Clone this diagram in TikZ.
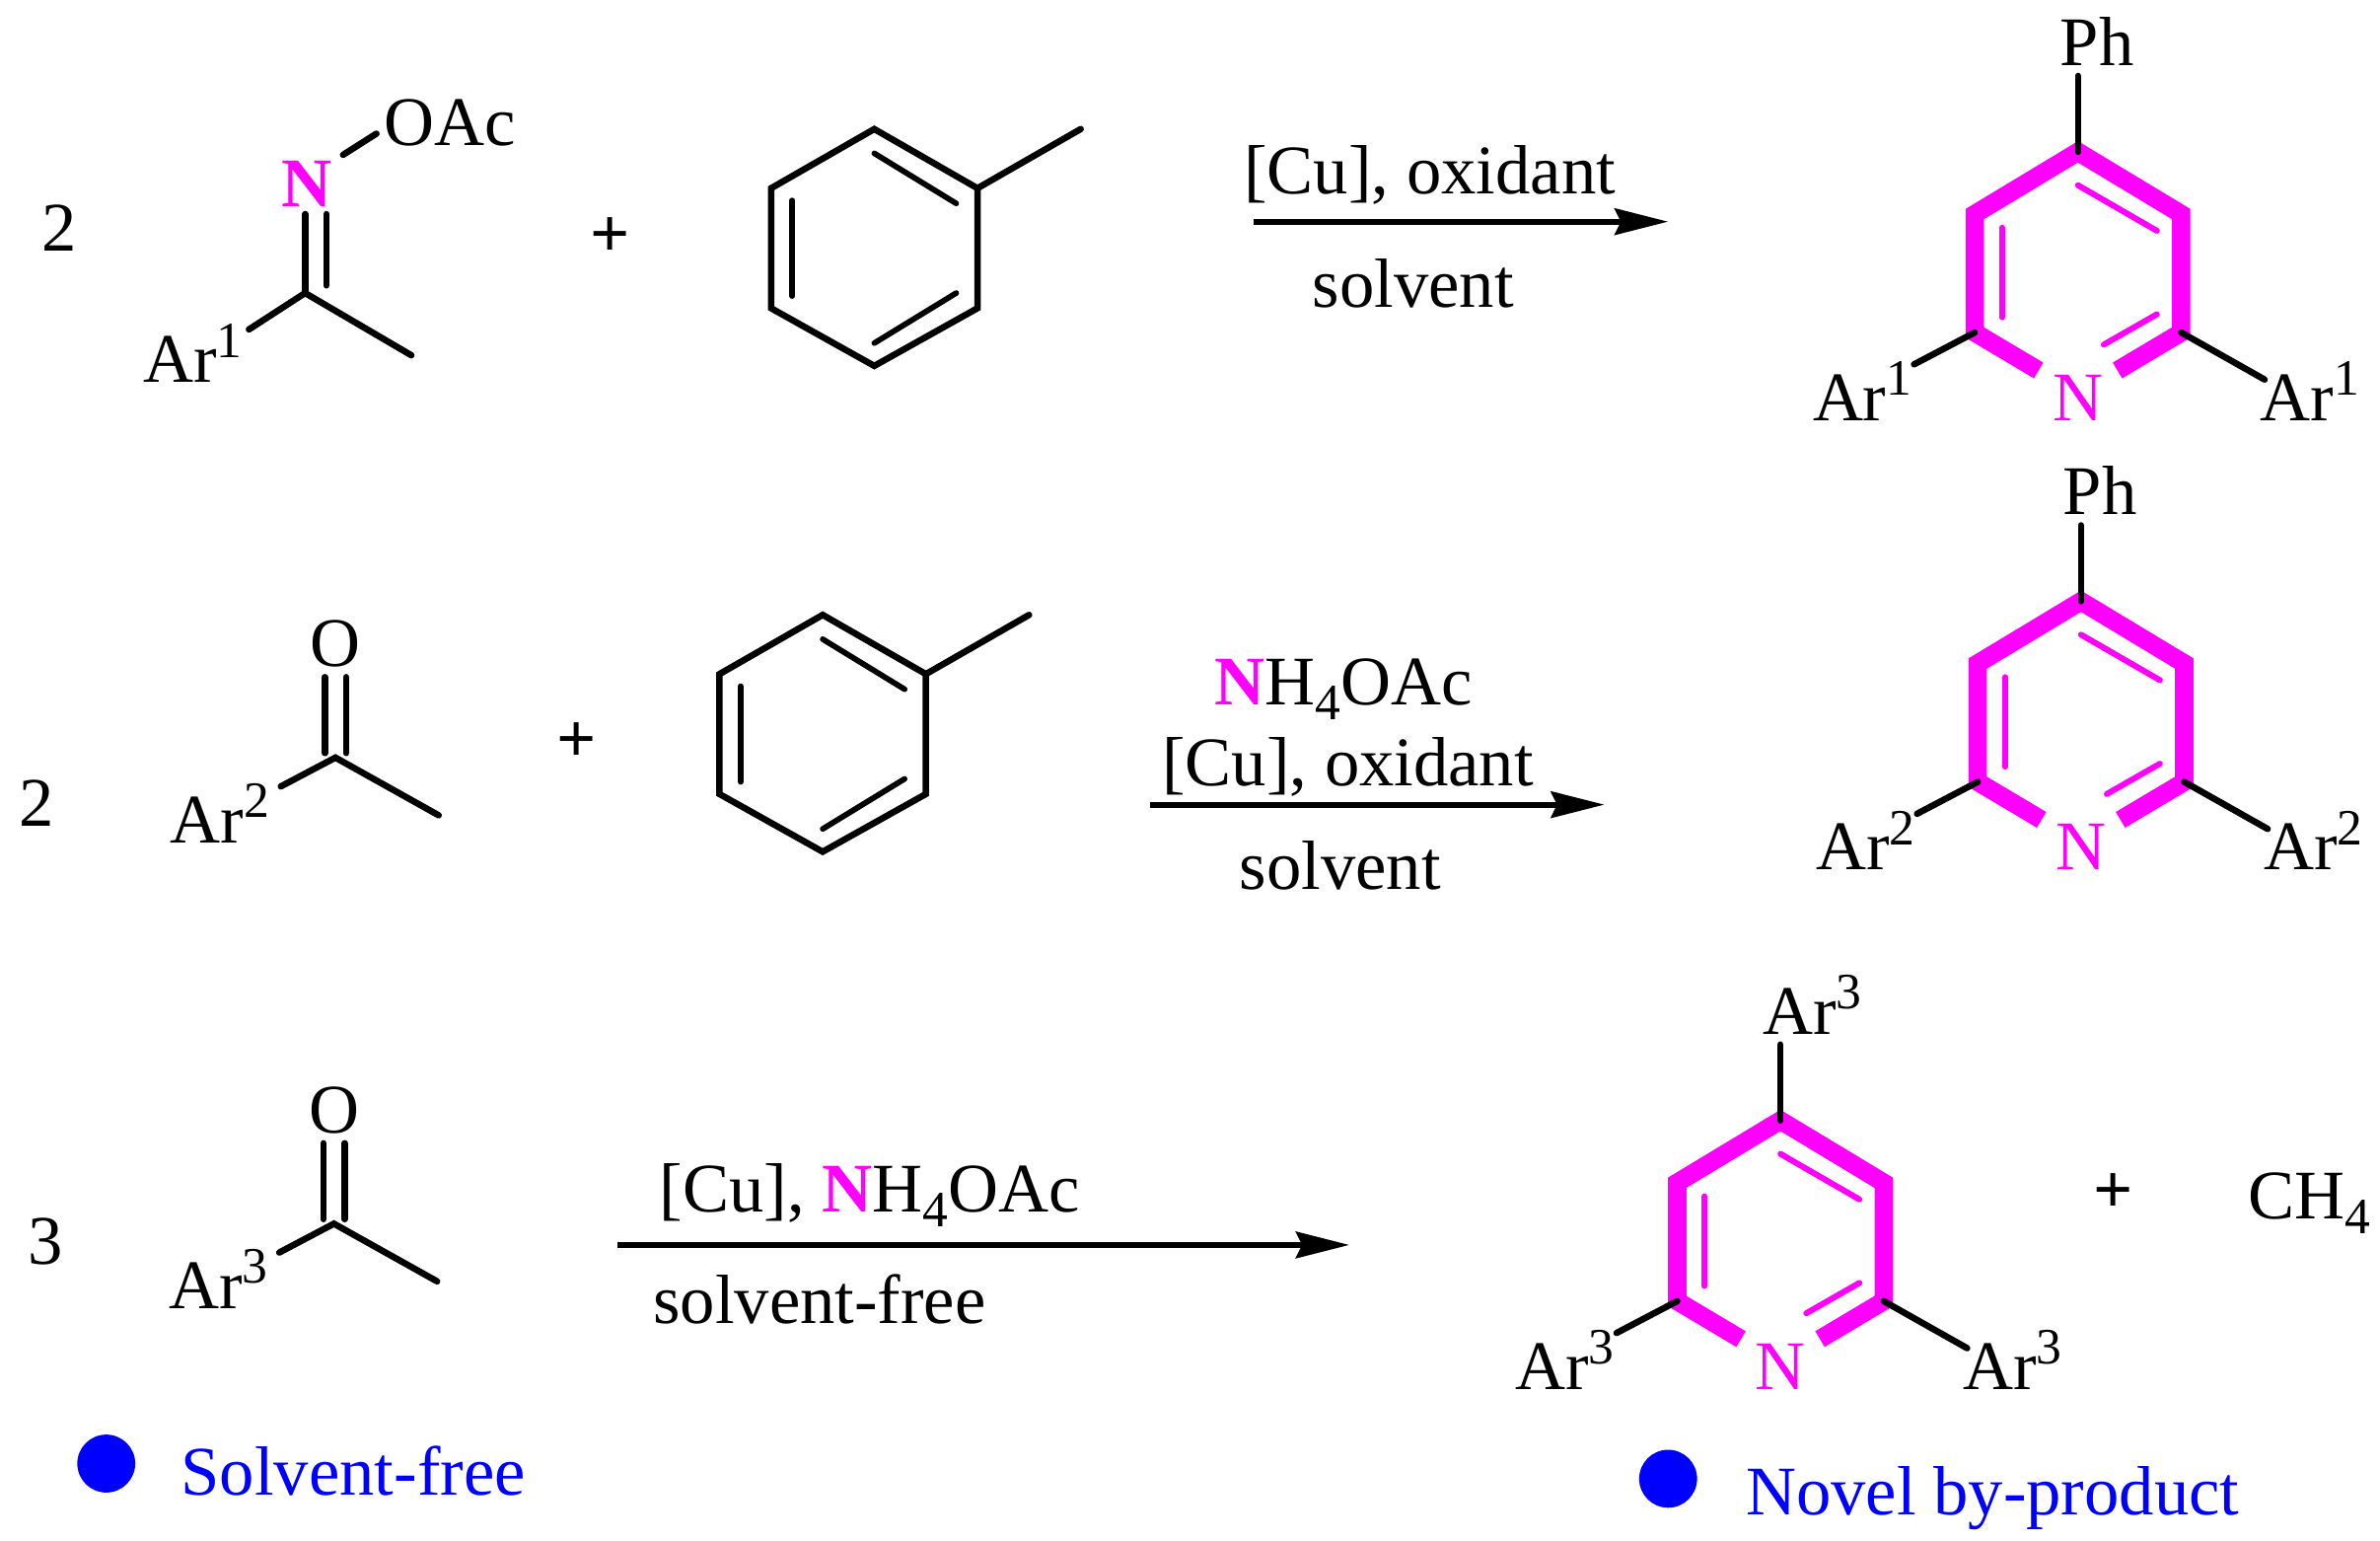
\documentclass[tikz,border=0pt]{standalone}
\usepackage{fontspec}
\setmainfont{Liberation Serif}
\usetikzlibrary{arrows.meta}
\definecolor{pyrcol}{RGB}{255,0,255}
\definecolor{notecol}{RGB}{0,0,255}
\tikzset{
  lab/.style={inner sep=0pt,font=\fontsize{26}{30}\selectfont},
  bond/.style={line width=2.4pt,line cap=round,line join=miter},
  inbond/.style={line width=2.1pt,line cap=round},
  ring/.style={pyrcol,line width=.24cm,line cap=butt,line join=miter,miter limit=10},
  inring/.style={pyrcol,line width=2.2pt,line cap=round},
  rxn/.style={line width=2.2pt,-{Stealth[length=.7cm,width=.345cm,inset=.08cm]}},
  note/.style={lab,notecol},
  dot/.style={circle,fill=notecol,inner sep=0pt,minimum size=.76cm}
}
\newcommand\Up[1]{\raisebox{9.5pt}{\fontsize{19}{19}\selectfont #1}}
\newcommand\Dn[1]{\raisebox{-5.5pt}{\fontsize{19}{19}\selectfont #1}}
% toluene, #1 = name, #2 = top vertex of the ring
\newcommand\toluene[2]{%
\begin{scope}[shift={(#2)},name prefix=#1-]
\coordinate (a) at (0,0); \coordinate (b) at (68,39);
\coordinate (c) at (68,118); \coordinate (d) at (0,156);
\coordinate (e) at (-68,118); \coordinate (f) at (-68,39);
\coordinate (me) at (136,0);
\draw[bond] (a)--(b)--(c)--(d)--(e)--(f)--cycle;
\draw[bond] (b)--(me);
\coordinate (p1) at (0,16); \coordinate (p2) at (54,49);
\coordinate (q1) at (-54,47); \coordinate (q2) at (-54,110);
\coordinate (r1) at (0,141); \coordinate (r2) at (54,108);
\draw[inbond] (p1)--(p2);
\draw[inbond] (q1)--(q2);
\draw[inbond] (r1)--(r2);
\end{scope}}
% pyridine, #1 = name, #2 = top vertex, #3 top label, #4 side label
\newcommand\pyridine[4]{%
\begin{scope}[shift={(#2)},name prefix=#1-]
\coordinate (top) at (0,0); \coordinate (ur) at (68,41);
\coordinate (lr) at (68,119); \coordinate (ul) at (-68,41);
\coordinate (ll) at (-68,119);
\coordinate (el) at (-26,144); \coordinate (er) at (26,144);
\coordinate (sub) at (0,-50);
\coordinate (al) at (-108,140); \coordinate (ar) at (123,150);
\draw[ring] (el)--(ll)--(ul)--(top)--(ur)--(lr)--(er);
\coordinate (i1) at (0,22); \coordinate (i2) at (52,52);
\coordinate (j1) at (-50,50); \coordinate (j2) at (-50,109);
\coordinate (k1) at (17,127); \coordinate (k2) at (52,107);
\draw[inring] (i1)--(i2);
\draw[inring] (j1)--(j2);
\draw[inring] (k1)--(k2);
\draw[bond] (sub)--(top);
\draw[bond] (ll)--(al);
\draw[bond] (lr)--(ar);
\node[lab,pyrcol,anchor=base] (n) at (0,177) {N};
\node[lab,anchor=base west] (tlab) at (-12,-57) {#3};
\node[lab,anchor=base west] (llab) at (-175,177) {#4};
\node[lab,anchor=base west] (rlab) at (120,177) {#4};
\end{scope}}
% ketone, #1 = name, #2 = carbonyl carbon, #3 = aryl label
\newcommand\ketone[3]{%
\begin{scope}[shift={(#2)},name prefix=#1-]
\coordinate (c) at (0,0); \coordinate (o1) at (-7,-53);
\coordinate (o2) at (7,-53); \coordinate (c2) at (7,-3);
\coordinate (c1) at (-7,-3);
\coordinate (me) at (68,38); \coordinate (ar) at (-36,19);
\draw[bond] (c1)--(o1);
\draw[bond] (c2)--(o2);
\draw[bond] (me)--(c)--(ar);
\node[lab,anchor=base] (o) at (0,-60) {O};
\node[lab,anchor=base west] (arlab) at (-109,56) {#3};
\end{scope}}
\begin{document}
\begin{tikzpicture}[x=.01991cm,y=-.01991cm]
\useasboundingbox (0,0) rectangle (1568,1014.5);
% first row
\node[lab] (two1) at (39,150) {2};
\node[lab,pyrcol,anchor=base] (ox-n) at (202,136) {\textbf{N}};
\node[lab,anchor=base west] (ox-oac) at (253,96) {OAc};
\coordinate (ox-c) at (201,193); \coordinate (ox-c2) at (215,188);
\coordinate (ox-d1) at (201,141); \coordinate (ox-d2) at (215,141);
\coordinate (ox-b1) at (226,102); \coordinate (ox-b2) at (248,88);
\coordinate (ox-me) at (271,234); \coordinate (ox-ar) at (164,217);
\draw[bond] (ox-b1)--(ox-b2);
\draw[bond] (ox-d1)--(ox-c);
\draw[bond] (ox-d2)--(ox-c2);
\draw[bond] (ox-ar)--(ox-c)--(ox-me);
\node[lab,anchor=base west] (ox-arlab) at (94,252) {Ar\Up{1}};
\node[lab] (plus1) at (402,156) {\textbf{+}};
\toluene{tol1}{576,85}
\coordinate (rxn1-a) at (826,146); \coordinate (rxn1-b) at (1099,146);
\draw[rxn] (rxn1-a)--(rxn1-b);
\node[lab] (cu1) at (942,115) {[Cu], oxidant};
\node[lab] (sol1) at (931,187) {solvent};
\pyridine{py1}{1369,100}{Ph}{Ar\Up{1}}
% second row
\node[lab] (two2) at (24,529) {2};
\ketone{ket2}{221,499}{Ar\Up{2}}
\node[lab] (plus2) at (380,489) {\textbf{+}};
\toluene{tol2}{542,405}
\coordinate (rxn2-a) at (758,530); \coordinate (rxn2-b) at (1057,530);
\draw[rxn] (rxn2-a)--(rxn2-b);
\node[lab] (nh2) at (885,454) {\textcolor{pyrcol}{\textbf{N}}H\Dn{4}OAc};
\node[lab] (cu2) at (888,505) {[Cu], oxidant};
\node[lab] (sol2) at (883,570) {solvent};
\pyridine{py2}{1371,396}{Ph}{Ar\Up{2}}
% third row
\node[lab] (three) at (30,818) {3};
\ketone{ket3}{220,806}{Ar\Up{3}}
\coordinate (rxn3-a) at (407,820); \coordinate (rxn3-b) at (889,820);
\draw[rxn] (rxn3-a)--(rxn3-b);
\node[lab] (cu3) at (573,787) {[Cu], \textcolor{pyrcol}{\textbf{N}}H\Dn{4}OAc};
\node[lab] (sol3) at (540,856) {solvent-free};
\pyridine{py3}{1173,738}{Ar\Up{3}}{Ar\Up{3}}
\node[lab] (plus3) at (1392,786) {\textbf{+}};
\node[lab,anchor=base west] (ch4) at (1481,803) {CH\Dn{4}};
% notes
\node[dot] (dot1) at (70,964) {};
\node[note,anchor=base west] (free) at (119,985) {Solvent-free};
\node[dot] (dot2) at (1099,974) {};
\node[note,anchor=base west] (novel) at (1150,998) {Novel by-product};
\end{tikzpicture}
\end{document}
